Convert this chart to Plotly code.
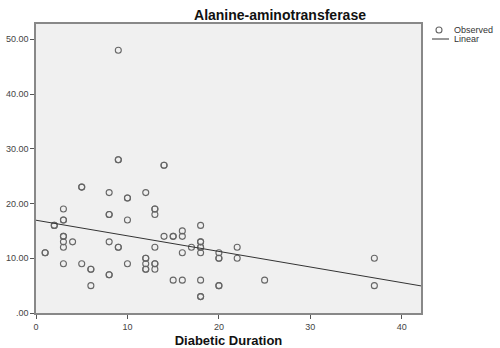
import plotly.graph_objects as go

# Observed data (Diabetic Duration vs Alanine-aminotransferase); repeated pairs = overlapping cases
duration = [1, 1, 2, 2, 3, 3, 3, 3, 3, 3, 3, 3, 4, 5, 5, 5, 6, 6, 6,
            8, 8, 8, 8, 8, 8, 9, 9, 9, 9, 9, 10, 10, 10, 10,
            12, 12, 12, 12, 12, 12, 13, 13, 13, 13, 13, 13, 13,
            14, 14, 14, 15, 15, 15, 16, 16, 16, 16, 17,
            18, 18, 18, 18, 18, 18, 18, 18, 18,
            20, 20, 20, 20, 20, 22, 22, 25, 37, 37]
alt = [11, 11, 16, 16, 19, 17, 17, 14, 14, 13, 12, 9, 13, 23, 23, 9, 8, 8, 5,
       22, 18, 18, 13, 7, 7, 48, 28, 28, 12, 12, 21, 21, 17, 9,
       22, 10, 10, 9, 8, 8, 19, 19, 18, 12, 9, 9, 8,
       27, 27, 14, 14, 14, 6, 15, 14, 11, 6, 12,
       16, 13, 13, 12, 12, 11, 6, 3, 3,
       11, 10, 10, 5, 5, 12, 10, 6, 10, 5]

# Linear fit
fit_intercept = 16.95
fit_slope = -0.285
x_max = 42.1

y_tickvals = [0, 10, 20, 30, 40, 50]
y_ticktext = [".00", "10.00", "20.00", "30.00", "40.00", "50.00"]
x_tickvals = [0, 10, 20, 30, 40]
legend_labels = ["Observed", "Linear"]

W, H = 500, 348
L, R, T, B = 36, 79, 24, 35
pw, ph = W - L - R, H - T - B

def px(x):
    return (x - L) / pw

def py(y):
    return (H - B - y) / ph

marker_color = "#666666"
line_color = "#333333"

fig = go.Figure()
fig.add_trace(go.Scatter(
    x=duration, y=alt, mode="markers", name=legend_labels[0],
    marker=dict(symbol="circle-open", size=6, color=marker_color, line=dict(width=1.1)),
))
fig.add_trace(go.Scatter(
    x=[0, x_max], y=[fit_intercept, fit_intercept + fit_slope * x_max],
    mode="lines", name=legend_labels[1], line=dict(color=line_color, width=1),
))

# Legend drawn in SPSS style to the right of the plot
shapes = [
    dict(type="circle", xref="paper", yref="paper",
         x0=px(436), x1=px(442), y0=py(33), y1=py(27),
         line=dict(color=marker_color, width=1.1)),
    dict(type="line", xref="paper", yref="paper",
         x0=px(432), x1=px(449), y0=py(39), y1=py(39),
         line=dict(color=line_color, width=1)),
]
annotations = [
    dict(text=legend_labels[0], xref="paper", yref="paper", x=px(452), y=py(30),
         xanchor="left", yanchor="middle", showarrow=False,
         font=dict(size=9, color="#333333")),
    dict(text=legend_labels[1], xref="paper", yref="paper", x=px(452), y=py(39),
         xanchor="left", yanchor="middle", showarrow=False,
         font=dict(size=9, color="#333333")),
]

fig.update_layout(
    width=W, height=H,
    margin=dict(l=L, r=R, t=T, b=B),
    paper_bgcolor="white", plot_bgcolor="#f0f0f0",
    font=dict(family="Liberation Sans, Arial, sans-serif", color="#333333", size=9),
    title=dict(text="<b>Alanine-aminotransferase</b>", x=280/W, xanchor="center",
               y=1 - 15/H, yanchor="middle", font=dict(size=14, color="#111111")),
    showlegend=False,
    shapes=shapes,
    annotations=annotations,
)
fig.update_xaxes(
    range=[0, x_max], tickvals=x_tickvals, ticks="outside", ticklen=4, tickcolor="#555555",
    showgrid=False, zeroline=False, showline=True, linecolor="#888888", linewidth=1.5, mirror=True,
    title=dict(text="<b>Diabetic Duration</b>", font=dict(size=13, color="#111111"), standoff=6),
    tickfont=dict(size=9, color="#444444"), automargin=False,
)
fig.update_yaxes(
    range=[0, 52.8], tickvals=y_tickvals, ticktext=y_ticktext, ticks="outside", ticklen=4,
    tickcolor="#555555", showgrid=False, zeroline=False, showline=True, linecolor="#888888",
    linewidth=1.5, mirror=True, tickfont=dict(size=9, color="#444444"), automargin=False,
)

fig.write_html("out.html", config={"displayModeBar": False},
               post_script="document.body.style.margin='0';document.body.style.overflow='hidden';")
